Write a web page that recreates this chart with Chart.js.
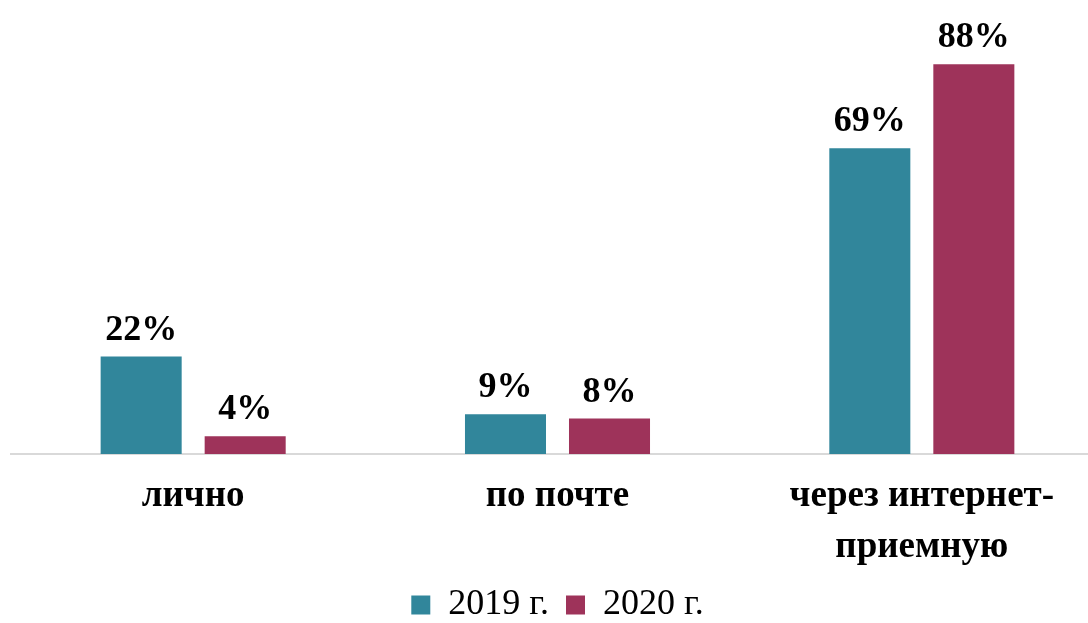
<!DOCTYPE html>
<html>
<head>
<meta charset="utf-8">
<script src="https://cdn.jsdelivr.net/npm/chart.js@4/dist/chart.umd.min.js"></script>
<style>
html,body{margin:0;padding:0;background:#fff;overflow:hidden;width:1088px;height:623px;}
canvas{display:block;}
</style>
</head>
<body>
<canvas id="c" width="1124" height="623"></canvas>
<script>
const categories = ["лично", "по почте", ["через интернет-", "приемную"]];
const series2019 = [22, 9, 69];
const series2020 = [4, 8, 88];
const seriesNames = ["2019 г.", "2020 г."];

const FONT = "'Liberation Serif', 'Times New Roman', serif";

const valueLabels = {
  id: 'valueLabels',
  afterDatasetsDraw(chart) {
    const ctx = chart.ctx;
    ctx.save();
    ctx.font = "bold 36px " + FONT;
    ctx.fillStyle = "#000";
    ctx.textAlign = "center";
    ctx.textBaseline = "alphabetic";
    chart.data.datasets.forEach((ds, i) => {
      const meta = chart.getDatasetMeta(i);
      meta.data.forEach((el, j) => {
        ctx.fillText(ds.data[j] + "%", el.x, el.y - 17);
      });
    });
    ctx.restore();
  }
};

new Chart(document.getElementById('c'), {
  type: 'bar',
  data: {
    labels: categories,
    datasets: [
      { label: seriesNames[0], data: series2019, backgroundColor: '#31869b' },
      { label: seriesNames[1], data: series2020, backgroundColor: '#9e335a' }
    ]
  },
  options: {
    responsive: false,
    animation: false,
    devicePixelRatio: 1,
    layout: { padding: { left: 11, right: 20, top: 11, bottom: -10 } },
    datasets: { bar: { categoryPercentage: 0.571, barPercentage: 0.779 } },
    scales: {
      y: { display: false, min: 0, max: 100 },
      x: {
        grid: { display: false, drawTicks: false },
        border: { display: true, color: '#d9d9d9', width: 2 },
        ticks: {
          color: '#000',
          padding: 17,
          font: { family: FONT, size: 37, weight: 'bold', lineHeight: 1.38 },
          maxRotation: 0
        },
        afterFit(axis) { axis.height = 116; }
      }
    },
    plugins: {
      legend: {
        position: 'bottom',
        labels: {
          color: '#000',
          boxWidth: 19,
          boxHeight: 19,
          padding: 17,
          font: { family: FONT, size: 36 }
        }
      },
      tooltip: { enabled: false }
    }
  },
  plugins: [valueLabels]
});
</script>
</body>
</html>
